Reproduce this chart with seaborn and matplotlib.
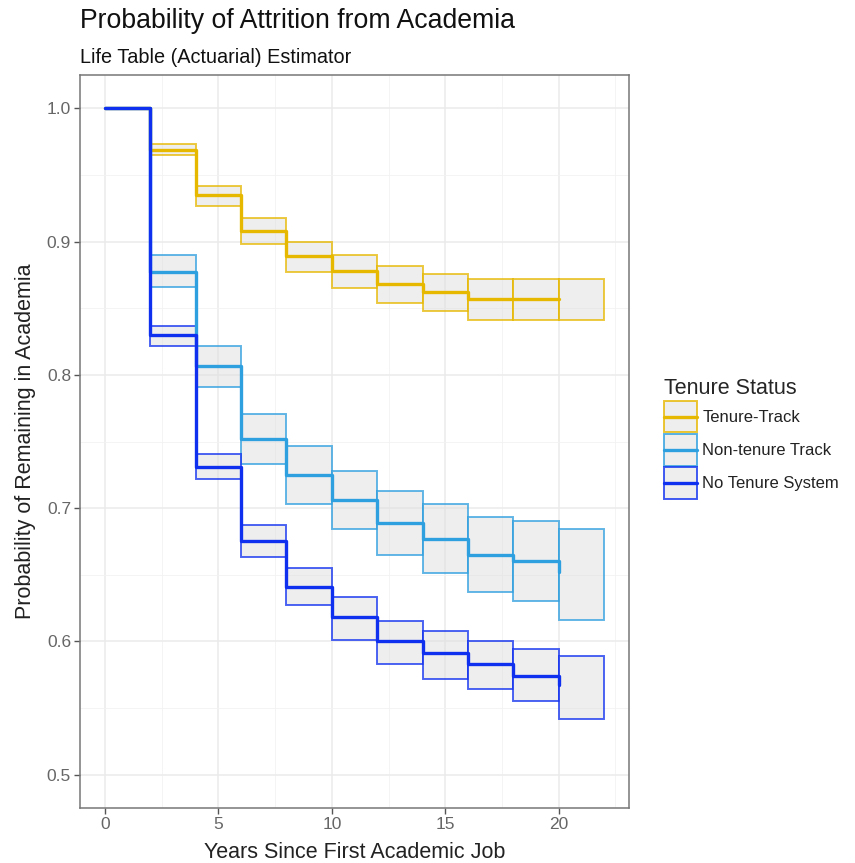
import numpy as np
import pandas as pd
import matplotlib
matplotlib.use("Agg")
import matplotlib.pyplot as plt
import seaborn as sns
from matplotlib.patches import Rectangle
from matplotlib.lines import Line2D
from matplotlib.legend_handler import HandlerBase

# Interval start times (years), one row per 2-year interval
years = [0, 2, 4, 6, 8, 10, 12, 14, 16, 18, 20]
groups = ["Tenure-Track", "Non-tenure Track", "No Tenure System"]

# Life table survival estimates and confidence limits
tenure_surv = [1.0, 0.969, 0.935, 0.908, 0.889, 0.878, 0.868, 0.862, 0.857, 0.857, 0.857]
tenure_lower = [1.0, 0.965, 0.927, 0.898, 0.877, 0.865, 0.854, 0.848, 0.841, 0.841, 0.841]
tenure_upper = [1.0, 0.973, 0.942, 0.918, 0.900, 0.890, 0.882, 0.876, 0.872, 0.872, 0.872]

nontenure_surv = [1.0, 0.877, 0.807, 0.752, 0.725, 0.706, 0.689, 0.677, 0.665, 0.660, 0.652]
nontenure_lower = [1.0, 0.866, 0.791, 0.733, 0.703, 0.684, 0.665, 0.651, 0.637, 0.630, 0.616]
nontenure_upper = [1.0, 0.890, 0.822, 0.771, 0.747, 0.728, 0.713, 0.703, 0.693, 0.690, 0.684]

notenure_surv = [1.0, 0.830, 0.731, 0.675, 0.641, 0.618, 0.600, 0.591, 0.583, 0.574, 0.567]
notenure_lower = [1.0, 0.822, 0.722, 0.663, 0.627, 0.601, 0.583, 0.572, 0.564, 0.555, 0.542]
notenure_upper = [1.0, 0.837, 0.741, 0.687, 0.655, 0.633, 0.615, 0.608, 0.600, 0.594, 0.589]

interval_width = 2
colors = ["#E7B800", "#2E9FDF", "#1030F0"]

BOX_FILL = (0.87, 0.87, 0.87, 0.5)


class BoxLineHandler(HandlerBase):
    """Legend key: grey box with coloured border and a line through the middle."""

    def create_artists(self, legend, orig_handle, xdescent, ydescent,
                       width, height, fontsize, trans):
        color = orig_handle.get_color()
        rect = Rectangle((-xdescent, -ydescent), width, height,
                         facecolor=BOX_FILL,
                         edgecolor=matplotlib.colors.to_rgba(color, 0.8),
                         linewidth=1.4, transform=trans)
        y = -ydescent + height / 2
        line = Line2D([-xdescent, -xdescent + width], [y, y], color=color,
                      linewidth=2.4, transform=trans)
        return [rect, line]


def main():
    sns.set_theme(style="whitegrid")
    plt.rcParams["font.family"] = ["Liberation Sans", "DejaVu Sans"]

    # long-form table for seaborn
    df = pd.concat([
        pd.DataFrame({"year": years, "surv": s, "lower": lo, "upper": up, "group": g})
        for g, s, lo, up in zip(
            groups,
            [tenure_surv, nontenure_surv, notenure_surv],
            [tenure_lower, nontenure_lower, notenure_lower],
            [tenure_upper, nontenure_upper, notenure_upper],
        )
    ], ignore_index=True)
    palette = dict(zip(groups, colors))

    fig = plt.figure(figsize=(8.55, 8.63), dpi=100)
    ax = fig.add_axes([0.0936, 0.0637, 0.6421, 0.8494])

    # confidence boxes for each interval
    for g in groups:
        sub = df[df["group"] == g]
        ax.bar(sub["year"], sub["upper"] - sub["lower"], bottom=sub["lower"],
               width=interval_width, align="edge",
               facecolor=BOX_FILL,
               edgecolor=matplotlib.colors.to_rgba(palette[g], 0.75),
               linewidth=1.4, zorder=2)

    # step lines
    sns.lineplot(data=df, x="year", y="surv", hue="group", palette=palette,
                 hue_order=groups, drawstyle="steps-post", linewidth=2.4,
                 estimator=None, legend=False, ax=ax, zorder=3)

    ax.set_xlim(-1.1, 23.1)
    ax.set_ylim(0.475, 1.025)
    ax.set_xticks([0, 5, 10, 15, 20])
    ax.set_yticks([0.5, 0.6, 0.7, 0.8, 0.9, 1.0])
    ax.set_yticklabels(["0.5", "0.6", "0.7", "0.8", "0.9", "1.0"])
    ax.set_xticks([2.5, 7.5, 12.5, 17.5, 22.5], minor=True)
    ax.set_yticks([0.55, 0.65, 0.75, 0.85, 0.95], minor=True)
    ax.grid(which="major", color="#EBEBEB", linewidth=1.1)
    ax.grid(which="minor", color="#F2F2F2", linewidth=0.6)
    ax.set_axisbelow(True)
    for sp in ax.spines.values():
        sp.set_color("#777777")
        sp.set_linewidth(1.1)
    ax.tick_params(axis="both", which="major", length=4, width=1.0, color="#555555",
                   labelcolor="#666666", labelsize=12.5, pad=2.5, bottom=True, left=True)
    ax.tick_params(which="minor", length=0)

    ax.set_xlabel("Years Since First Academic Job", fontsize=15.5, color="#222222", labelpad=7)
    ax.set_ylabel("Probability of Remaining in Academia", fontsize=15.5, color="#222222", labelpad=8)

    fig.text(80 / 855, 1 - 28 / 863, "Probability of Attrition from Academia",
             fontsize=19.2, color="#111111", va="baseline", ha="left")
    fig.text(80 / 855, 1 - 63 / 863, "Life Table (Actuarial) Estimator",
             fontsize=14.3, color="#111111", va="baseline", ha="left")

    # legend keys drawn by the custom handler
    handles = [Line2D([], [], color=palette[g]) for g in groups]
    leg = fig.legend(handles, groups, title="Tenure Status", loc="upper left",
                     bbox_to_anchor=(664 / 855, 1 - 378 / 863), frameon=False,
                     handler_map={Line2D: BoxLineHandler()},
                     fontsize=12, title_fontsize=15.5, handlelength=2.0, handleheight=2.55,
                     handletextpad=0.3, labelspacing=0.1, borderpad=0, borderaxespad=0,
                     alignment="left")
    for t in leg.get_texts():
        t.set_color("#222222")

    fig.savefig("out.png", dpi=100)


if __name__ == "__main__":
    main()
